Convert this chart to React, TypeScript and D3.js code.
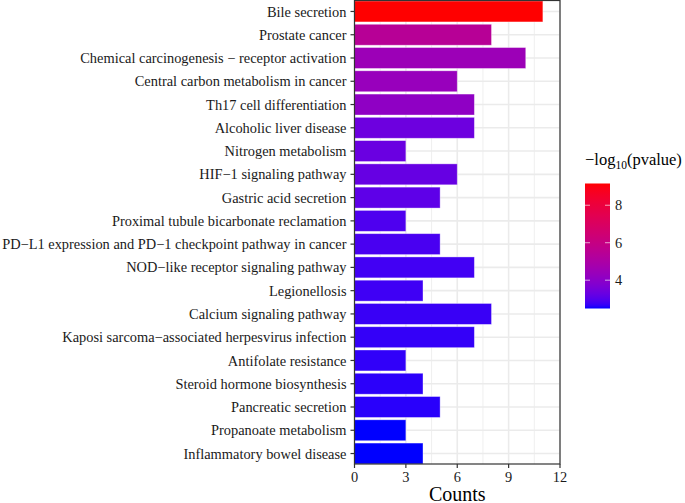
import React from "react";
import * as d3 from "d3";

const pathways = [
  "Bile secretion",
  "Prostate cancer",
  "Chemical carcinogenesis \u2212 receptor activation",
  "Central carbon metabolism in cancer",
  "Th17 cell differentiation",
  "Alcoholic liver disease",
  "Nitrogen metabolism",
  "HIF\u22121 signaling pathway",
  "Gastric acid secretion",
  "Proximal tubule bicarbonate reclamation",
  "PD\u2212L1 expression and PD\u22121 checkpoint pathway in cancer",
  "NOD\u2212like receptor signaling pathway",
  "Legionellosis",
  "Calcium signaling pathway",
  "Kaposi sarcoma\u2212associated herpesvirus infection",
  "Antifolate resistance",
  "Steroid hormone biosynthesis",
  "Pancreatic secretion",
  "Propanoate metabolism",
  "Inflammatory bowel disease",
];
const counts = [11, 8, 10, 6, 7, 7, 3, 6, 5, 3, 5, 7, 4, 8, 7, 3, 4, 5, 3, 4];
const logP = [9.16, 5.42, 4.49, 4.35, 4.1, 3.36, 3.32, 3.24, 3.12, 2.92, 2.86, 2.79, 2.77, 2.72, 2.68, 2.66, 2.63, 2.61, 2.49, 2.49];
const xTicks = [0, 3, 6, 9, 12];
const xMinor = [1.5, 4.5, 7.5, 10.5];
const legendTicks = [4, 6, 8];

const W = 685;
const H = 503;
const panel = { left: 354.5, right: 560, top: 0.5, bottom: 464 };
const font = "'Liberation Serif', 'Times New Roman', serif";

export default function App() {
  const x = d3.scaleLinear().domain([0, 12]).range([panel.left, panel.right]);
  const y = d3
    .scaleBand<string>()
    .domain(pathways)
    .range([panel.top + 0.5, panel.bottom])
    .paddingInner(0.1)
    .paddingOuter(0);
  const pMin = d3.min(logP)!;
  const pMax = d3.max(logP)!;
  const color = d3
    .scaleLinear<string>()
    .domain([pMin, pMax])
    .range(["#0000FF", "#FF0000"])
    .interpolate(d3.interpolateLab);

  const lg = { x: 585, w: 25, top: 183.5, bottom: 308.5 };
  const ly = d3.scaleLinear().domain([pMin, pMax]).range([lg.bottom, lg.top]);
  const stops = d3.range(0, 1.0001, 0.02);

  return (
    <svg
      width={W}
      height={H}
      style={{ position: "absolute", left: 0, top: 0, background: "#fff" }}
      fontFamily={font}
    >
      <defs>
        <linearGradient id="lg" x1="0" y1="1" x2="0" y2="0">
          {stops.map((s) => (
            <stop key={s} offset={s} stopColor={color(pMin + s * (pMax - pMin))} />
          ))}
        </linearGradient>
      </defs>
      <rect x={0} y={0} width={W} height={H} fill="#fff" />
      {/* grid */}
      {xMinor.map((t) => (
        <line key={"mn" + t} x1={x(t)} x2={x(t)} y1={panel.top} y2={panel.bottom} stroke="#EBEBEB" strokeWidth={0.8} />
      ))}
      {xTicks.map((t) => (
        <line key={"mj" + t} x1={x(t)} x2={x(t)} y1={panel.top} y2={panel.bottom} stroke="#EBEBEB" strokeWidth={1.6} />
      ))}
      {pathways.map((p) => (
        <line
          key={"g" + p}
          x1={panel.left}
          x2={panel.right}
          y1={y(p)! + y.bandwidth() / 2}
          y2={y(p)! + y.bandwidth() / 2}
          stroke="#EBEBEB"
          strokeWidth={1.6}
        />
      ))}
      {/* bars */}
      {pathways.map((p, i) => (
        <rect
          key={"b" + p}
          x={x(0)}
          y={y(p)!}
          width={x(counts[i]) - x(0)}
          height={y.bandwidth()}
          fill={color(logP[i])}
          stroke="rgba(255,255,255,0.45)"
          strokeWidth={0.8}
        />
      ))}
      {/* panel border */}
      <rect
        x={panel.left}
        y={panel.top}
        width={panel.right - panel.left}
        height={panel.bottom - panel.top}
        fill="none"
        stroke="#333333"
        strokeWidth={1.2}
      />
      {/* y axis */}
      {pathways.map((p) => {
        const cy = y(p)! + y.bandwidth() / 2;
        return (
          <g key={"yl" + p}>
            <line x1={panel.left - 4} x2={panel.left} y1={cy} y2={cy} stroke="#333333" strokeWidth={1.2} />
            <text x={panel.left - 8} y={cy} dy="0.35em" textAnchor="end" fontSize={14.4} fill="#1a1a1a">
              {p}
            </text>
          </g>
        );
      })}
      {/* x axis */}
      {xTicks.map((t) => (
        <g key={"xt" + t}>
          <line x1={x(t)} x2={x(t)} y1={panel.bottom} y2={panel.bottom + 4} stroke="#333333" strokeWidth={1.2} />
          <text x={x(t)} y={482} textAnchor="middle" fontSize={14.4} fill="#1a1a1a">
            {t}
          </text>
        </g>
      ))}
      <text x={(panel.left + panel.right) / 2} y={500.5} textAnchor="middle" fontSize={20} fill="#000">
        Counts
      </text>
      {/* legend */}
      <text x={lg.x} y={165} fontSize={16.5} fill="#000">
        {"\u2212log"}
        <tspan fontSize={11.5} dy={4}>10</tspan>
        <tspan dy={-4}>(pvalue)</tspan>
      </text>
      <rect x={lg.x} y={lg.top} width={lg.w} height={lg.bottom - lg.top} fill="url(#lg)" />
      {legendTicks.map((t) => (
        <g key={"lt" + t}>
          <line x1={lg.x} x2={lg.x + 5} y1={ly(t)} y2={ly(t)} stroke="#fff" strokeWidth={0.8} opacity={0.8} />
          <line x1={lg.x + lg.w - 5} x2={lg.x + lg.w} y1={ly(t)} y2={ly(t)} stroke="#fff" strokeWidth={0.8} opacity={0.8} />
          <text x={lg.x + lg.w + 5} y={ly(t)} dy="0.35em" fontSize={14.4} fill="#1a1a1a">
            {t}
          </text>
        </g>
      ))}
    </svg>
  );
}
